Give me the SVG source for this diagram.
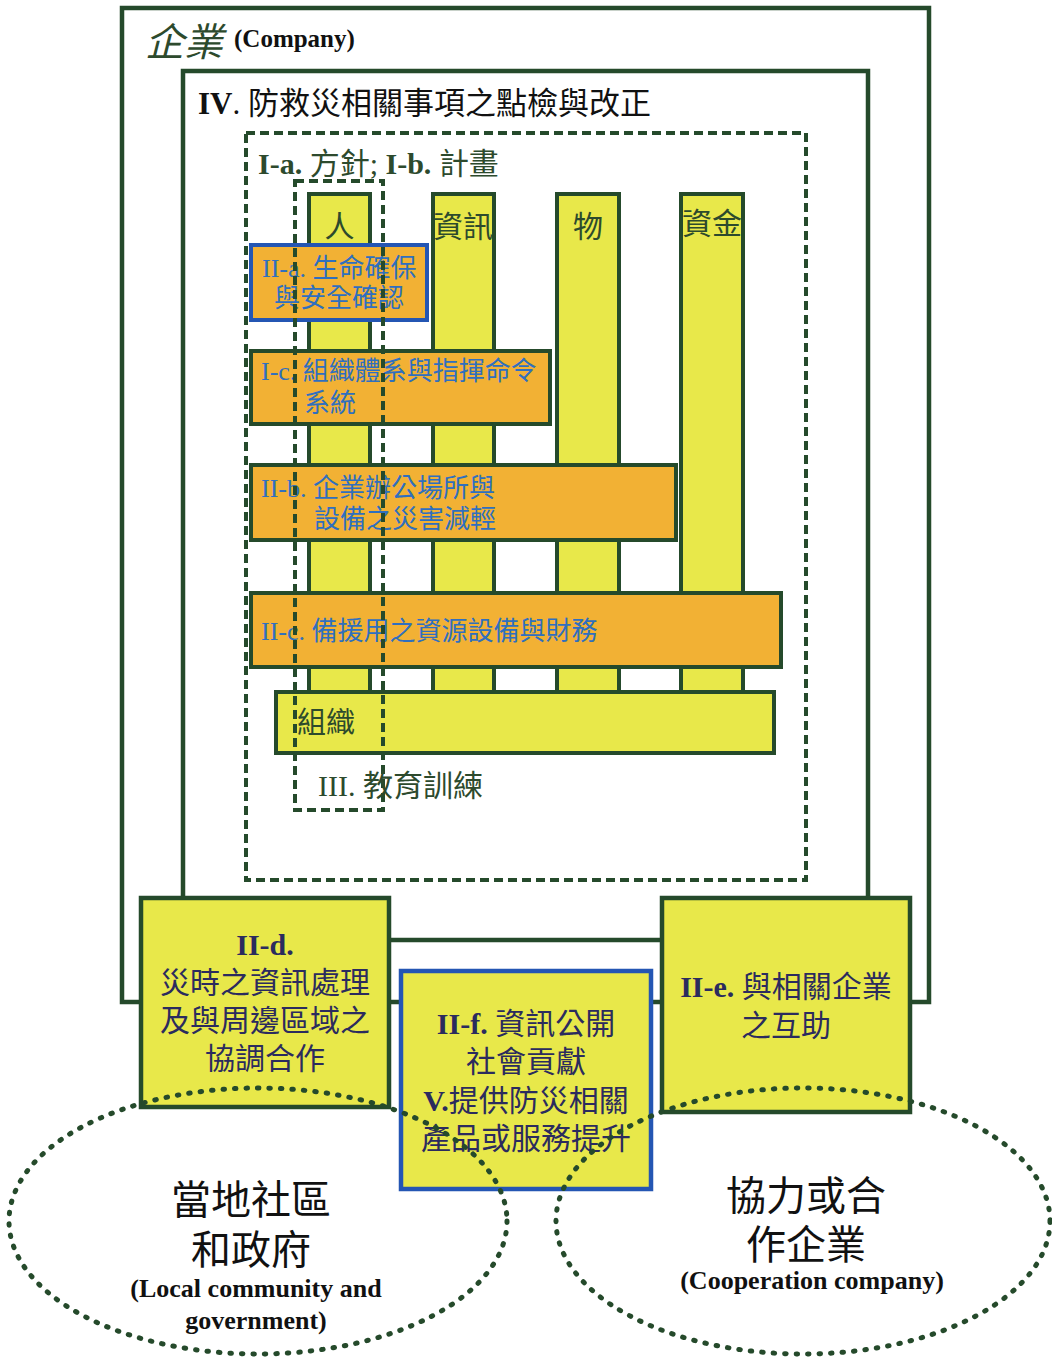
<svg xmlns="http://www.w3.org/2000/svg" width="1052" height="1359" viewBox="0 0 1052 1359">
<style>
.frame{fill:none;stroke:#254a2b;stroke-width:4.5}
.dash{fill:none;stroke:#254a2b;stroke-width:4;stroke-dasharray:9 5}
.col{fill:#e8e84a;stroke:#254a2b;stroke-width:4}
.bar{fill:#f2b134;stroke:#254a2b;stroke-width:4}
.bbox{fill:#e8e84a;stroke:#254a2b;stroke-width:4.5}
.blue{stroke:#2456b3}
.ell{fill:none;stroke:#254a2b;stroke-width:5;stroke-dasharray:1.5 10;stroke-linecap:round}
.cjk{font-family:"Liberation Serif","Noto Sans CJK TC",serif}
.bt{fill:#2f6fbf;font-size:26px}
.gt{fill:#2d4a2d}
.nv{fill:#2b2b5e;font-size:30px}
.blk{fill:#111}
</style>
<g id="company">
<rect class="frame" x="122" y="8" width="807" height="994"/>
<text class="cjk gt" x="145" y="56" font-size="39" font-style="italic">企業</text>
<text class="cjk blk" x="234" y="47" font-size="25" font-weight="bold">(Company)</text>
</g>
<g id="iv">
<rect class="frame" x="183" y="71" width="685" height="869"/>
<text class="cjk blk" x="198" y="114" font-size="31"><tspan font-weight="bold">IV</tspan>. 防救災相關事項之點檢與改正</text>
</g>
<g id="columns">
<rect class="col" x="309" y="194" width="61" height="500"/>
<rect class="col" x="433" y="194" width="61" height="500"/>
<rect class="col" x="557" y="194" width="62" height="500"/>
<rect class="col" x="681" y="194" width="62" height="500"/>
<text class="cjk gt" x="339.5" y="237" font-size="30" text-anchor="middle">人</text>
<text class="cjk gt" x="433" y="237" font-size="30">資訊</text>
<text class="cjk gt" x="588" y="237" font-size="30" text-anchor="middle">物</text>
<text class="cjk gt" x="682" y="234" font-size="30">資金</text>
</g>
<g id="II-a">
<rect class="bar blue" x="251" y="245" width="176" height="75"/>
<text class="cjk bt" x="262" y="277">II-a. 生命確保</text>
<text class="cjk bt" x="274" y="307">與安全確認</text>
</g>
<g id="I-c">
<rect class="bar" x="251" y="351" width="299" height="73"/>
<text class="cjk bt" x="261" y="380">I-c. 組織體系與指揮命令</text>
<text class="cjk bt" x="304" y="412">系統</text>
</g>
<g id="II-b">
<rect class="bar" x="251" y="465" width="425" height="75"/>
<text class="cjk bt" x="261" y="497">II-b. 企業辦公場所與</text>
<text class="cjk bt" x="314" y="528">設備之災害減輕</text>
</g>
<g id="II-c">
<rect class="bar" x="251" y="593" width="530" height="74"/>
<text class="cjk bt" x="261" y="640">II-c. 備援用之資源設備與財務</text>
</g>
<g id="org">
<rect class="col" x="276" y="692" width="498" height="61"/>
<text class="cjk gt" x="297" y="733" font-size="29">組織</text>
</g>
<g id="I-a">
<rect class="dash" x="246" y="133" width="560" height="747"/>
<text class="cjk gt" x="258" y="174" font-size="30"><tspan font-weight="bold">I-a.</tspan> 方針; <tspan font-weight="bold">I-b.</tspan> 計畫</text>
</g>
<g id="III">
<rect class="dash" x="295" y="181" width="88" height="629"/>
<text class="cjk gt" x="318" y="796" font-size="30">III. 教育訓練</text>
</g>
<g id="II-d">
<rect class="bbox" x="141" y="898" width="248" height="209"/>
<text class="cjk nv" x="265" y="955" text-anchor="middle" font-weight="bold">II-d.</text>
<text class="cjk nv" x="265" y="993" text-anchor="middle">災時之資訊處理</text>
<text class="cjk nv" x="265" y="1031" text-anchor="middle">及與周邊區域之</text>
<text class="cjk nv" x="265" y="1069" text-anchor="middle">協調合作</text>
</g>
<g id="II-e">
<rect class="bbox" x="662" y="898" width="248" height="214"/>
<text class="cjk nv" x="786" y="997" text-anchor="middle"><tspan font-weight="bold">II-e.</tspan> 與相關企業</text>
<text class="cjk nv" x="786" y="1036" text-anchor="middle">之互助</text>
</g>
<g id="II-f">
<rect class="bbox blue" x="401" y="971" width="250" height="218"/>
<text class="cjk nv" x="526" y="1034" text-anchor="middle"><tspan font-weight="bold">II-f.</tspan> 資訊公開</text>
<text class="cjk nv" x="526" y="1072" text-anchor="middle">社會貢獻</text>
<text class="cjk nv" x="526" y="1111" text-anchor="middle"><tspan font-weight="bold">V.</tspan>提供防災相關</text>
<text class="cjk nv" x="526" y="1149" text-anchor="middle">產品或服務提升</text>
</g>
<g id="local">
<ellipse class="ell" cx="258" cy="1221" rx="249" ry="133"/>
<text class="cjk blk" x="251" y="1214" font-size="40" text-anchor="middle">當地社區</text>
<text class="cjk blk" x="251" y="1264" font-size="40" text-anchor="middle">和政府</text>
<text class="cjk blk" x="256" y="1297" font-size="26" font-weight="bold" text-anchor="middle">(Local community and</text>
<text class="cjk blk" x="256" y="1329" font-size="26" font-weight="bold" text-anchor="middle">government)</text>
</g>
<g id="coop">
<ellipse class="ell" cx="803" cy="1221" rx="247" ry="133"/>
<text class="cjk blk" x="806" y="1210" font-size="40" text-anchor="middle">協力或合</text>
<text class="cjk blk" x="806" y="1259" font-size="40" text-anchor="middle">作企業</text>
<text class="cjk blk" x="812" y="1289" font-size="26" font-weight="bold" text-anchor="middle">(Cooperation company)</text>
</g>
<g id="connectors"></g>
</svg>
